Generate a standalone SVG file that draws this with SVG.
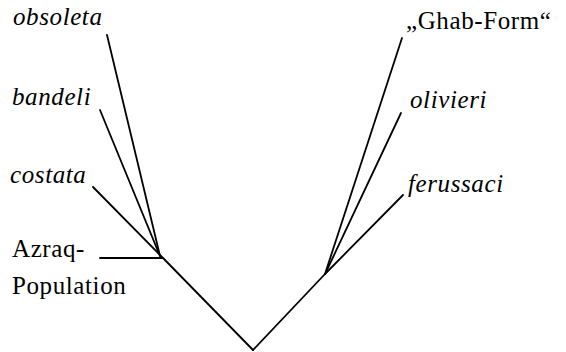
<svg xmlns="http://www.w3.org/2000/svg" width="566" height="352" viewBox="0 0 566 352">
<rect width="566" height="352" fill="#fff"/>
<g id="connectors" stroke="#000" stroke-width="1.8" fill="none" stroke-linecap="round">
<line x1="253" y1="350" x2="163" y2="258"/>
<line x1="253" y1="350" x2="325" y2="274"/>
<line x1="107" y1="35" x2="160" y2="256"/>
<line x1="100" y1="110" x2="160" y2="256"/>
<line x1="93" y1="187" x2="162" y2="257"/>
<line x1="100" y1="258" x2="163" y2="258"/>
<line x1="402" y1="38" x2="325" y2="274"/>
<line x1="401" y1="113" x2="327" y2="270"/>
<line x1="403" y1="195" x2="325" y2="274"/>
</g>
<g font-family="Liberation Serif, Times New Roman, serif" font-size="25" fill="#000">
<g id="obsoleta"><text style="font-family:'Liberation Serif',serif !important;font-size:25px;font-style:italic;letter-spacing:0.6px" x="13" y="25">obsoleta</text></g>
<g id="bandeli"><text style="font-family:'Liberation Serif',serif !important;font-size:25px;font-style:italic;letter-spacing:0.6px" x="12" y="105">bandeli</text></g>
<g id="costata"><text style="font-family:'Liberation Serif',serif !important;font-size:25px;font-style:italic;letter-spacing:0.6px" x="10" y="183">costata</text></g>
<g id="azraq"><text style="font-family:'Liberation Serif',serif !important;font-size:25px;letter-spacing:0.6px" x="12" y="257">Azraq-</text><text style="font-family:'Liberation Serif',serif !important;font-size:25px;letter-spacing:0.6px" x="12" y="294">Population</text></g>
<g id="ghab"><text style="font-family:'Liberation Serif',serif !important;font-size:25px;letter-spacing:0.6px" x="406" y="29">&#8222;Ghab-Form&#8220;</text></g>
<g id="olivieri"><text style="font-family:'Liberation Serif',serif !important;font-size:25px;font-style:italic;letter-spacing:0.6px" x="410" y="108">olivieri</text></g>
<g id="ferussaci"><text style="font-family:'Liberation Serif',serif !important;font-size:25px;font-style:italic;letter-spacing:0.6px" x="408" y="192">ferussaci</text></g>
</g>
</svg>
